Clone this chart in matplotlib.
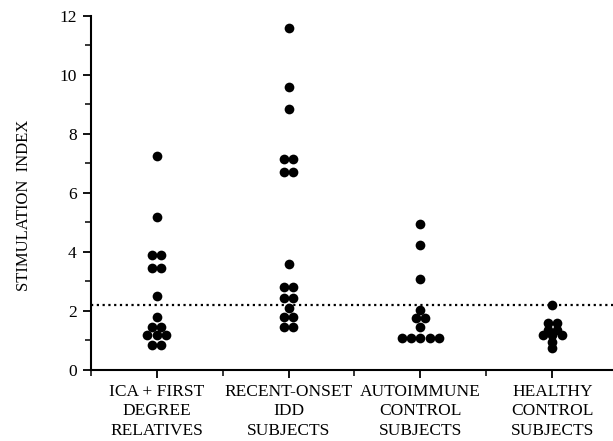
import numpy as np
import matplotlib
matplotlib.use("Agg")
from matplotlib import pyplot as plt
from matplotlib.ticker import MultipleLocator

# Group labels and stimulation index values
groups = ["ICA + FIRST\nDEGREE\nRELATIVES",
          "RECENT-ONSET\nIDD\nSUBJECTS",
          "AUTOIMMUNE\nCONTROL\nSUBJECTS",
          "HEALTHY\nCONTROL\nSUBJECTS"]

ica_relatives = [7.25, 5.2, 3.9, 3.9, 3.45, 3.45, 2.5, 1.8,
                 1.45, 1.45, 1.2, 1.2, 1.2, 0.85, 0.85]
recent_idd = [11.6, 9.6, 8.85, 7.15, 7.15, 6.7, 6.7, 3.6,
              2.8, 2.8, 2.45, 2.45, 2.1, 1.8, 1.8, 1.45, 1.45]
autoimmune = [4.95, 4.25, 3.1, 2.05, 1.75, 1.75, 1.45,
              1.1, 1.1, 1.1, 1.1, 1.1]
healthy = [2.2, 1.6, 1.6, 1.35, 1.35, 1.2, 1.2, 1.2, 0.95, 0.75]

threshold = 2.2

all_values = [ica_relatives, recent_idd, autoimmune, healthy]


def swarm_offsets(vals, width=0.07):
    # spread identical values side by side
    vals = np.asarray(vals)
    offs = np.zeros(len(vals))
    for v in np.unique(vals):
        idx = np.where(vals == v)[0]
        n = len(idx)
        offs[idx] = (np.arange(n) - (n - 1) / 2) * width
    return offs


plt.rcParams["font.family"] = ["Liberation Serif", "DejaVu Serif"]

fig = plt.figure(figsize=(6.13, 4.41), dpi=100)
ax = fig.add_axes([0.148, 0.161, 0.852, 0.803])

for i, vals in enumerate(all_values):
    x = i + 1 + swarm_offsets(vals)
    ax.plot(x, vals, "o", color="black", markersize=7, markeredgewidth=0)

ax.axhline(threshold, color="black", linestyle=(0, (1, 1.6)), linewidth=1.6)

ax.set_xlim(0.5, 4.46)
ax.set_ylim(0, 12)

ax.spines["top"].set_visible(False)
ax.spines["right"].set_visible(False)
ax.spines["left"].set_linewidth(1.5)
ax.spines["bottom"].set_linewidth(1.5)

ax.set_xticks([1, 2, 3, 4])
ax.set_xticklabels(groups, fontsize=12.5, linespacing=1.3)
ax.xaxis.set_minor_locator(MultipleLocator(1, offset=0.5))
ax.set_yticks(range(0, 13, 2))
ax.yaxis.set_minor_locator(MultipleLocator(1))

ax.tick_params(axis="both", which="major", direction="out", length=6,
               width=1.3, labelsize=12.5)
ax.tick_params(axis="x", which="major", pad=4)
ax.tick_params(axis="y", which="major", pad=4)
ax.tick_params(axis="both", which="minor", direction="out", length=4, width=1.1)

ax.set_ylabel("STIMULATION  INDEX", fontsize=12)
ax.yaxis.set_label_coords(-0.113, 0.466)

plt.savefig("out.png", dpi=100)
